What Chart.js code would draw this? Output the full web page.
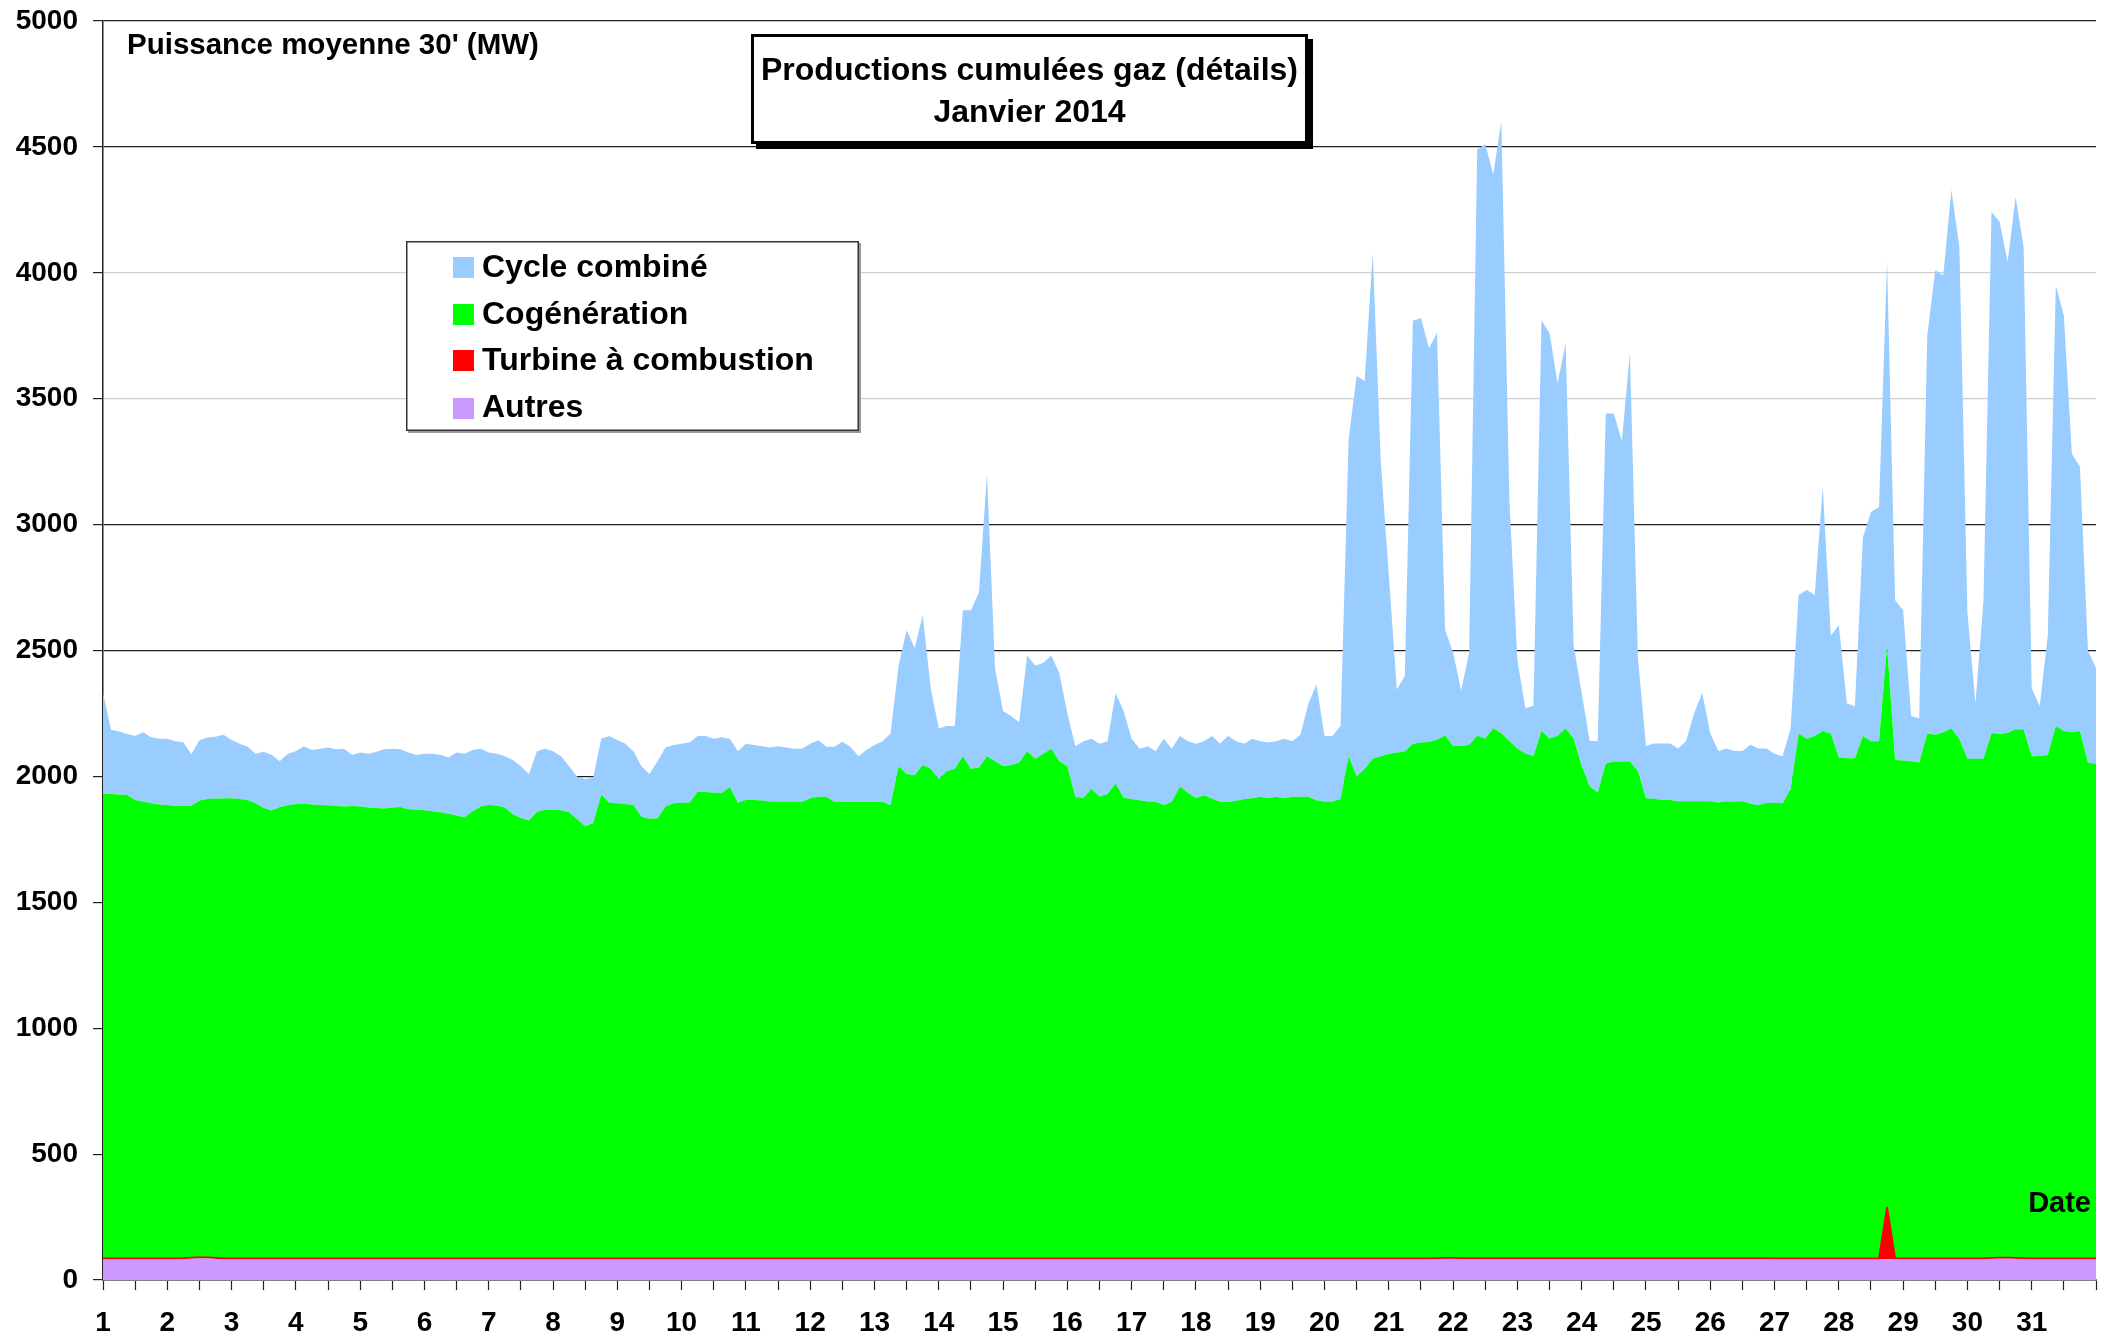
<!DOCTYPE html>
<html>
<head>
<meta charset="utf-8">
<script src="https://cdn.jsdelivr.net/npm/chart.js@4.4.1/dist/chart.umd.min.js"></script>
<style>
html,body{margin:0;padding:0;background:#fff;}
canvas{display:block;}
</style>
</head>
<body>
<canvas id="c" width="2114" height="1340"></canvas>
<script>
// ---------- texts ----------
const chartTitle = ['Productions cumulées gaz (détails)', 'Janvier 2014'];
const yAxisTitle = "Puissance moyenne 30' (MW)";
const xAxisTitle = 'Date';

// ---------- categories (time axis: day of month + hour) ----------
const days = [1,2,3,4,5,6,7,8,9,10,11,12,13,14,15,16,17,18,19,20,21,22,23,24,25,26,27,28,29,30,31];
const hoursOfDay = [0,3,6,9,12,15,18,21];
const endOfMonth = 32;
const yTickValues = [0,500,1000,1500,2000,2500,3000,3500,4000,4500,5000];

// ---------- series values (MW), one row per day, 8 samples per day, + end of month ----------
const cycleCombine = [
 400,255,250,242,254,275,262,262,
 264,258,253,205,240,244,245,253,
 232,220,212,197,223,220,182,205,
 210,228,217,224,230,226,230,203,
 215,214,223,235,234,230,225,217,
 224,228,227,223,250,252,243,230,
 209,206,204,215,205,185,240,242,
 232,214,182,169,188,180,222,265,
 252,240,214,200,178,226,235,232,
 235,239,220,222,215,221,192,205,
 224,219,216,215,220,215,210,211,
 217,225,199,219,239,219,181,206,
 226,241,284,400,570,505,595,320,
 200,180,170,580,630,695,1120,370,
 220,195,160,380,370,360,370,350,
 210,202,225,200,210,210,358,345,
 240,205,220,201,264,211,200,205,
 217,215,248,231,261,237,220,237,
 221,222,221,237,221,246,371,460,
 260,260,290,1260,1590,1540,2010,1170,
 710,250,300,1680,1685,1563,1615,420,
 370,220,365,2330,2360,2200,2430,960,
 350,180,200,1630,1610,1400,1530,370,
 290,180,205,1390,1382,1272,1622,450,
 208,220,225,225,210,240,350,430,
 270,205,210,202,200,235,225,217,
 195,187,240,550,590,560,970,390,
 525,218,208,790,910,930,1530,635,
 597,180,175,1580,1845,1815,2140,1950,
 580,220,630,2070,2035,1870,2115,1915,
 270,199,475,1750,1650,1105,1050,445,
 380
];
const cogeneration = [
 1845,1845,1843,1841,1821,1815,1808,1803,
 1801,1797,1797,1795,1815,1821,1825,1827,
 1828,1825,1821,1808,1790,1780,1793,1800,
 1805,1807,1803,1801,1800,1797,1795,1797,
 1795,1791,1790,1788,1791,1793,1785,1783,
 1781,1777,1773,1767,1760,1753,1777,1795,
 1801,1799,1791,1765,1750,1740,1775,1783,
 1783,1781,1773,1745,1717,1730,1843,1810,
 1808,1805,1801,1755,1747,1749,1795,1808,
 1810,1811,1855,1853,1850,1849,1873,1810,
 1821,1821,1819,1815,1815,1815,1815,1814,
 1828,1834,1834,1814,1814,1814,1814,1814,
 1814,1814,1801,1955,1925,1920,1960,1945,
 1905,1935,1945,1995,1945,1950,1995,1975,
 1955,1960,1970,2015,1985,2005,2025,1975,
 1955,1833,1830,1865,1835,1845,1887,1830,
 1825,1820,1815,1814,1801,1814,1875,1850,
 1828,1840,1827,1814,1814,1818,1825,1828,
 1834,1828,1834,1828,1834,1834,1834,1820,
 1815,1815,1825,1995,1915,1945,1985,1995,
 2005,2010,2015,2045,2050,2052,2060,2075,
 2035,2035,2040,2075,2065,2105,2085,2055,
 2025,2005,1995,2095,2065,2075,2105,2065,
 1955,1875,1850,1965,1973,1973,1973,1935,
 1827,1825,1820,1820,1815,1815,1815,1815,
 1815,1810,1815,1813,1815,1805,1800,1808,
 1810,1808,1865,2085,2065,2075,2095,2085,
 1990,1987,1987,2075,2055,2055,2230,1980,
 1978,1975,1970,2085,2080,2090,2105,2065,
 1985,1985,1985,2085,2080,2085,2100,2100,
 1995,1996,2000,2115,2095,2090,2095,1970,
 1965
];
const turbineCombustion = [
 3,3,3,3,3,3,3,3,
 3,3,3,3,3,3,3,3,
 3,3,3,3,3,3,3,3,
 3,3,3,3,3,3,3,3,
 3,3,3,3,3,3,3,3,
 3,3,3,3,3,3,3,3,
 3,3,3,3,3,3,3,3,
 3,3,3,3,3,3,3,3,
 3,3,3,3,3,3,3,3,
 3,3,3,3,3,3,3,3,
 3,3,3,3,3,3,3,3,
 3,3,3,3,3,3,3,3,
 3,3,3,3,3,3,3,3,
 3,3,3,3,3,3,3,3,
 3,3,3,3,3,3,3,3,
 3,3,3,3,3,3,3,3,
 3,3,3,3,3,3,3,3,
 3,3,3,3,3,3,3,3,
 3,3,3,3,3,3,3,3,
 3,3,3,3,3,3,3,3,
 3,3,3,3,3,3,3,3,
 3,3,3,3,3,3,3,3,
 3,3,3,3,3,3,3,3,
 3,3,3,3,3,3,3,3,
 3,3,3,3,3,3,3,3,
 3,3,3,3,3,3,3,3,
 3,3,3,3,3,3,3,3,
 3,3,3,3,3,3,205,3,
 3,3,3,3,3,3,3,3,
 3,3,3,3,3,3,3,3,
 3,3,3,3,3,3,3,3,
 3
];
const autres = [
 82,82,82,82,82,82,82,82,
 82,82,83,85,86,86,84,82,
 82,82,82,82,82,82,82,82,
 82,82,82,82,82,82,82,82,
 82,82,82,82,82,82,82,82,
 82,82,82,82,82,82,82,82,
 82,82,82,82,82,82,82,82,
 82,82,82,82,82,82,82,82,
 82,82,82,82,82,82,82,82,
 82,82,82,82,82,82,82,82,
 82,82,82,82,82,82,82,82,
 82,82,82,82,82,82,82,82,
 82,82,82,82,82,82,82,82,
 82,82,82,82,82,82,82,82,
 82,82,82,82,82,82,82,82,
 82,82,82,82,82,82,82,82,
 82,82,82,82,82,82,82,82,
 82,82,82,82,82,82,82,82,
 82,82,82,82,82,82,82,82,
 82,82,82,82,82,82,82,82,
 82,82,82,82,82,82,83,84,
 84,83,83,83,83,83,83,83,
 83,83,83,83,83,83,83,83,
 83,83,83,83,83,83,83,83,
 83,83,83,83,83,83,83,83,
 83,83,83,83,83,83,83,83,
 82,82,82,82,82,82,82,82,
 82,82,82,82,82,82,82,82,
 82,82,82,82,82,82,82,82,
 82,82,82,84,85,85,84,83,
 82,82,82,82,82,82,82,82,
 82
];

const seriesNames  = ['Autres', 'Turbine à combustion', 'Cogénération', 'Cycle combiné'];
const seriesValues = [autres, turbineCombustion, cogeneration, cycleCombine];
const seriesColors = ['#CC99FF', '#FF0000', '#00FF00', '#99CCFF'];

// ---------- build time stamps ----------
const times = [];
days.forEach(d => hoursOfDay.forEach(h => times.push(d + h / 24)));
times.push(endOfMonth);

const FONT = '"Liberation Sans", Arial, Helvetica, sans-serif';
Chart.defaults.font.family = FONT;
Chart.defaults.font.weight = 'bold';
Chart.defaults.color = '#000';

const datasets = seriesNames.map((name, i) => ({
  label: name,
  data: times.map((t, k) => ({ x: t, y: seriesValues[i][k] })),
  backgroundColor: seriesColors[i],
  borderColor: seriesColors[i],
  borderWidth: name === 'Turbine à combustion' ? 2 : 0,
  fill: i === 0 ? 'origin' : '-1',
  pointRadius: 0,
  pointHoverRadius: 0,
  tension: 0
}));

const overlay = {
  id: 'overlay',
  afterDraw(chart) {
    const ctx = chart.ctx;
    ctx.save();
    ctx.fillStyle = '#000';
    ctx.textBaseline = 'alphabetic';

    // unit label
    ctx.font = 'bold 29.5px ' + FONT;
    ctx.textAlign = 'left';
    ctx.fillText(yAxisTitle, 127, 54);

    // "Date"
    ctx.font = 'bold 29px ' + FONT;
    ctx.textAlign = 'right';
    ctx.fillText(xAxisTitle, 2091, 1212);

    // title box with shadow
    const bx = 751, by = 34, bw = 557, bh = 110;
    ctx.fillStyle = '#000';
    ctx.fillRect(bx + 5, by + 5, bw, bh);
    ctx.fillStyle = '#fff';
    ctx.fillRect(bx, by, bw, bh);
    ctx.lineWidth = 3;
    ctx.strokeStyle = '#000';
    ctx.strokeRect(bx + 1.5, by + 1.5, bw - 3, bh - 3);
    ctx.fillStyle = '#000';
    ctx.font = 'bold 32px ' + FONT;
    ctx.textAlign = 'center';
    ctx.fillText(chartTitle[0], bx + bw / 2, 80);
    ctx.fillText(chartTitle[1], bx + bw / 2, 122);

    // legend box
    const lx = 406, ly = 241, lw = 453, lh = 190;
    ctx.fillStyle = '#9a9a9a';
    ctx.fillRect(lx + 2, ly + 2, lw, lh);
    ctx.fillStyle = '#fff';
    ctx.fillRect(lx, ly, lw, lh);
    ctx.lineWidth = 1.5;
    ctx.strokeStyle = '#333';
    ctx.strokeRect(lx + 0.75, ly + 0.75, lw - 1.5, lh - 1.5);
    const order = [3, 2, 1, 0];
    const sqTops = [257, 304, 350, 398];
    const baselines = [277, 324, 370, 417];
    ctx.font = 'bold 32px ' + FONT;
    ctx.textAlign = 'left';
    order.forEach((di, j) => {
      ctx.fillStyle = seriesColors[di];
      ctx.fillRect(453, sqTops[j], 21, 21);
      ctx.fillStyle = '#000';
      ctx.fillText(seriesNames[di], 482, baselines[j]);
    });
    ctx.restore();
  }
};

new Chart(document.getElementById('c'), {
  type: 'line',
  data: { datasets },
  options: {
    responsive: false,
    devicePixelRatio: 1,
    animation: false,
    events: [],
    layout: { padding: { top: 21, right: 18, left: 0, bottom: 0 } },
    plugins: {
      legend: { display: false },
      tooltip: { enabled: false },
      title: { display: false },
      filler: { propagate: false }
    },
    elements: { line: { borderJoinStyle: 'round' } },
    scales: {
      x: {
        type: 'linear',
        min: 1,
        max: endOfMonth,
        afterFit: s => { s.height = 60; s.paddingLeft = 0; s.paddingRight = 0; },
        afterBuildTicks: s => {
          const t = [];
          for (let v = 1; v <= endOfMonth; v += 0.5) t.push({ value: v });
          s.ticks = t;
        },
        ticks: {
          autoSkip: false,
          maxRotation: 0,
          padding: 16,
          font: { size: 28, weight: 'bold' },
          color: '#000',
          callback: v => (Number.isInteger(v) && days.includes(v)) ? String(v) : ''
        },
        grid: {
          drawOnChartArea: false,
          drawTicks: true,
          tickLength: 10,
          tickColor: '#222',
          tickWidth: 1.2
        },
        border: { display: true, color: '#7f7f7f', width: 2 }
      },
      y: {
        stacked: true,
        min: 0,
        max: 5000,
        afterFit: s => { s.width = 103; s.paddingTop = 0; s.paddingBottom = 0; },
        afterBuildTicks: s => { s.ticks = yTickValues.map(v => ({ value: v })); },
        ticks: {
          padding: 15,
          font: { size: 28, weight: 'bold' },
          color: '#000',
          callback: v => String(v)
        },
        grid: {
          color: c => (c.tick && (c.tick.value === 4000 || c.tick.value === 3500)) ? '#cfcfcf' : '#1e1e1e',
          lineWidth: 1.2,
          tickLength: 10,
          tickColor: '#222',
          drawTicks: true
        },
        border: { display: true, color: '#222', width: 1.5 }
      }
    }
  },
  plugins: [overlay]
});
</script>
</body>
</html>
